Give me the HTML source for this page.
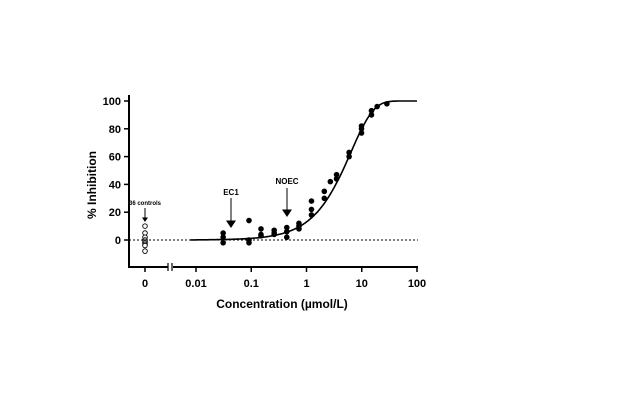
<!DOCTYPE html>
<html><head><meta charset="utf-8"><style>
body{margin:0;background:#fff}
svg{font-family:"Liberation Sans",Arial,sans-serif;font-weight:bold}
</style></head><body>
<svg id="chart" width="640" height="400" viewBox="0 0 640 400">
<g id="axes"></g><g id="marks"></g>
</svg>
<script>
const xTicks=[0.01,0.1,1,10,100];
const xTickLabels=["0.01","0.1","1","10","100"];
const yTicks=[0,20,40,60,80,100];
const concs=[0.031,0.031,0.031,0.091,0.091,0.091,0.15,0.15,0.15,0.26,0.26,0.26,0.44,0.44,0.44,0.73,0.73,0.73,1.23,1.23,1.23,2.1,2.1,2.7,3.5,3.5,5.9,5.9,9.9,9.9,9.9,15,15,19,28.5];
const inhib=[5,2,-2,14,0,-2,8,4,3,7,5,4,9,6,2,12,10,8,28,22,18,35,30,42,47,44,63,60,82,80,77,93,90,96,98];
const controls=[10,5,2,0,-1,-2,-3,-4,-8];
const fitMid=0.805, fitSlope=2.45;
const NS="http://www.w3.org/2000/svg";
const xs=c=>196+(Math.log10(c)+2)*55.25;
const ys=v=>240-v*1.39;
const ctrlX=145;
function mk(tag,attrs,parent){const e=document.createElementNS(NS,tag);for(const k in attrs)e.setAttribute(k,attrs[k]);parent.appendChild(e);return e;}
const ax=document.getElementById('axes'),mg=document.getElementById('marks');
let e;
e=mk('line',{x1:129,y1:95,x2:129,y2:267,stroke:'#000','stroke-width':2},ax);

e=mk('path',{d:'M128 267H168M173 267H418',stroke:'#000','stroke-width':2,fill:'none'},ax);

e=mk('path',{d:'M168 263V271M172 263V271',stroke:'#000','stroke-width':1.2},ax);

yTicks.forEach(v=>{
 mk('line',{x1:124,x2:129,y1:ys(v),y2:ys(v),stroke:'#000','stroke-width':1.5},ax);
 e=mk('text',{x:121,y:ys(v)+4,'text-anchor':'end','font-size':11},ax);e.textContent=v;
 
});
mk('line',{x1:ctrlX,x2:ctrlX,y1:267,y2:272,stroke:'#000','stroke-width':1.5},ax);
e=mk('text',{x:ctrlX,y:287,'text-anchor':'middle','font-size':11},ax);e.textContent='0';

xTicks.forEach((c,i)=>{
 mk('line',{x1:xs(c),x2:xs(c),y1:267,y2:272,stroke:'#000','stroke-width':1.5},ax);
 e=mk('text',{x:xs(c),y:287,'text-anchor':'middle','font-size':11},ax);e.textContent=xTickLabels[i];
 
});
e=mk('text',{x:282,y:308,'text-anchor':'middle','font-size':12},ax);e.textContent='Concentration (µmol/L)';

e=mk('text',{x:96,y:185,'text-anchor':'middle','font-size':12,transform:'rotate(-90 96 185)'},ax);e.textContent='% Inhibition';

e=mk('line',{x1:129,x2:418,y1:ys(0),y2:ys(0),stroke:'#000','stroke-width':1,'stroke-dasharray':'2,2'},mg);

let d='';
for(let l=-2.1;l<=2.001;l+=0.02){const c=Math.pow(10,l);const v=100*(1-Math.exp(-Math.exp(fitSlope*(l-fitMid))));d+=(d?'L':'M')+xs(c).toFixed(1)+' '+ys(v).toFixed(1);}
e=mk('path',{d:d,stroke:'#000','stroke-width':1.6,fill:'none'},mg);

concs.forEach((c,i)=>{e=mk('circle',{cx:xs(c),cy:ys(inhib[i]),r:2.8,fill:'#000'},mg);
 });
controls.forEach(v=>{e=mk('circle',{cx:ctrlX,cy:ys(v),r:2.3,fill:'#fff',stroke:'#000','stroke-width':0.9},mg);
 });
function arrow(x,y1,y2,label,ly,fs,name,hw){
 const g=mk('g',{},mg);
 
 const t=mk('text',{x:x,y:ly,'text-anchor':'middle','font-size':fs},g);t.textContent=label;
 mk('line',{x1:x,x2:x,y1:y1,y2:y2-hw*1.4,stroke:'#000','stroke-width':1},g);
 mk('path',{d:`M${x-hw} ${y2-hw*1.5}L${x+hw} ${y2-hw*1.5}L${x} ${y2}Z`,fill:'#000'},g);
}
arrow(145,208,222,'36 controls',205,6,'controls-annotation',3);
arrow(231,198,228,'EC1',195,8,'ec1-annotation',5);
arrow(287,188,217,'NOEC',184,8,'noec-annotation',5);
</script>
</body></html>
